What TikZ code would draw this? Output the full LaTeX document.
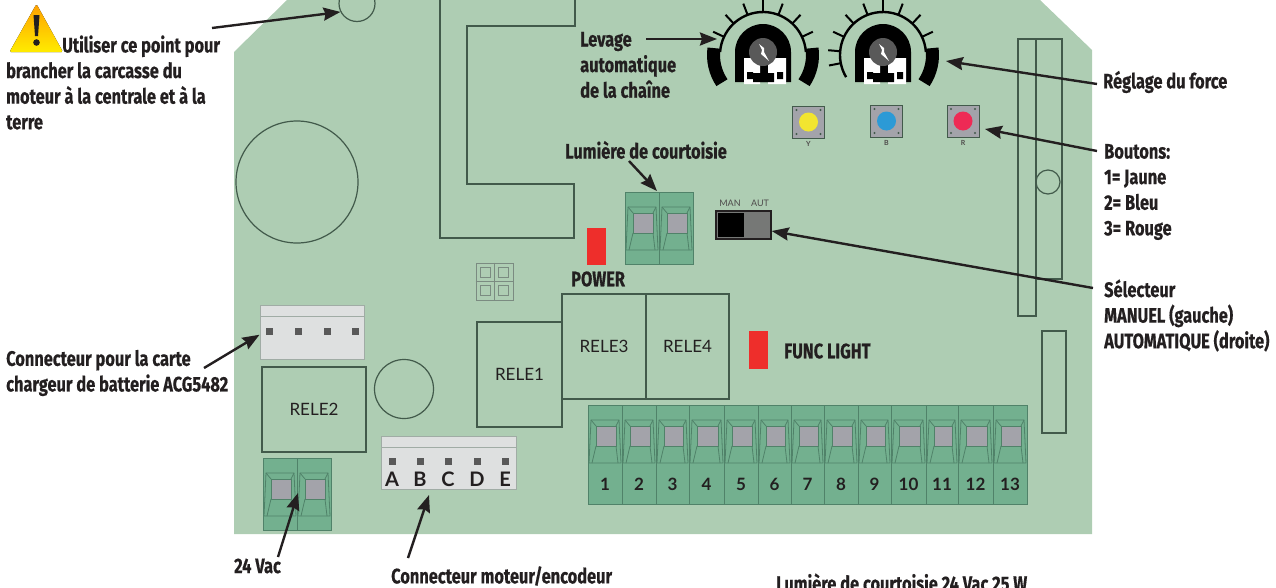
\documentclass[tikz,border=0pt]{standalone}
\usepackage{fontspec}
\usetikzlibrary{arrows.meta}
\setmainfont{Fira Sans}[FakeStretch=0.78,BoldFont={Fira Sans Bold},BoldFeatures={FakeBold=0.5}]
\newfontfamily\silkfont{Lato}
\definecolor{pcb-green}{RGB}{174,205,179}
\definecolor{term-green}{RGB}{115,176,143}
\definecolor{term-line}{RGB}{80,130,105}
\definecolor{part-line}{RGB}{66,90,75}
\definecolor{pin-gray}{RGB}{163,163,170}
\definecolor{conn-gray}{RGB}{222,224,224}
\definecolor{led-red}{RGB}{238,46,43}
\definecolor{ink}{RGB}{35,31,32}
\definecolor{btn-yellow}{RGB}{242,229,48}
\definecolor{btn-blue}{RGB}{44,154,214}
\definecolor{btn-red}{RGB}{238,42,85}
\newcommand{\termcell}[4]{%
  \draw[term-line, fill=term-green, line width=0.8pt] (#1,#3) rectangle (#2,#4);
  \draw[term-line, line width=0.8pt] (#1+3,#3+15) -- (#2-3,#3+15) -- (#2-1,#3+58)
    -- (#1+1,#3+58) -- cycle;
  \draw[term-line, fill=pin-gray, line width=0.8pt] (#1+8,#3+21) rectangle (#2-6,#3+41);
  \draw[term-line, line width=0.8pt] (#1+8,#3+41) -- (#1+4,#3+58)
    (#2-6,#3+41) -- (#2-4,#3+58) (#1+3,#3+15) -- (#1+8,#3+21) (#2-3,#3+15) -- (#2-6,#3+21);
}
\begin{document}
\begin{tikzpicture}[
          x=1pt, y=-1pt,
          label/.style={anchor=west, inner sep=0pt, align=left, text=ink,
            font=\fontsize{21}{25.6}\selectfont\bfseries},
          part/.style={draw=part-line, line width=1.2pt, inner sep=0pt},
          relay/.style={part, font=\silkfont\fontsize{17}{17}\selectfont, text=ink},
          hole/.style={part, circle},
          conn/.style={draw=part-line!50, fill=conn-gray, line width=1pt, inner sep=0pt},
          led/.style={fill=led-red, inner sep=0pt, minimum width=19pt, minimum height=37pt},
          pushbtn/.style={draw=part-line, fill=pin-gray, line width=0.9pt, inner sep=0pt,
            minimum size=32pt},
          silk/.style={inner sep=0pt, text=ink!80, font=\silkfont\fontsize{9}{9}\selectfont},
          termnum/.style={inner sep=0pt, text=ink, font=\silkfont\bfseries\fontsize{17}{17}\selectfont},
          connletter/.style={inner sep=0pt, text=ink, font=\silkfont\bfseries\fontsize{20}{20}\selectfont},
          arr/.style={-{Stealth[length=17pt,width=13pt,inset=2pt]}, ink, line width=2.4pt}
        ]
        \useasboundingbox (0,0) rectangle (1276,587);
        \fill[pcb-green] (234,52) -- (287,0) -- (1040,0) -- (1092,50) -- (1092,534)
          -- (234,534) -- cycle;
        \begin{scope}
          \clip (0,0) rectangle (1276,587);
          \node[hole, minimum size=36pt] (groundhole) at (357,3.5) {};
        \end{scope}
        \node[hole, minimum size=122pt] (bighole) at (297,182) {};
        \node[hole, minimum size=59pt] (relayhole) at (404,389) {};
        \draw[part-line, line width=1.2pt] (440,0) -- (440,238) -- (574,238) -- (574,184)
          -- (467,184) -- (467,26) -- (575,26) -- (575,0);
        \node[part, minimum width=18pt, minimum height=277pt] (railA) at (1027,177.5) {};
        \node[part, minimum width=26pt, minimum height=240pt] (railB) at (1049,159) {};
        \node[hole, minimum size=24pt] (railhole) at (1048,182) {};
        \node[part, minimum width=24pt, minimum height=102pt] (railC) at (1054,382) {};
        \node[relay, minimum width=85pt, minimum height=105pt] (rele1) at (519.5,374.5) {RELE1};
        \node[relay, minimum width=104pt, minimum height=85pt] (rele2) at (314,409.5) {RELE2};
        \node[relay, minimum width=84pt, minimum height=105pt] (rele3) at (604,346.5) {RELE3};
        \node[relay, minimum width=83pt, minimum height=105pt] (rele4) at (687.5,346.5) {RELE4};
        \node[draw=part-line!70, line width=0.9pt, minimum size=37pt, inner sep=0pt] (jumper) at (494.5,281.5) {};
        \draw[part-line!70, line width=0.9pt] (jumper.north) -- (jumper.south) (jumper.west) -- (jumper.east);
        \foreach \jx in {485.5,503.5} \foreach \jy in {272.5,290.5}
          \draw[part-line!70, line width=0.8pt] (\jx-5,\jy-5) rectangle (\jx+5,\jy+5);
        \node[led] (powerled) at (596.5,246) {};
        \node[led, minimum height=38pt] (funcled) at (758.5,350) {};
        \node[draw=ink, fill=black!55!pcb-green!20!gray, line width=1.4pt, inner sep=0pt,
          minimum width=55pt, minimum height=28pt] (selector) at (743.5,225) {};
        \fill[black] (718,213) rectangle (744,237);
        \node[silk] (mantxt) at (730,203) {MAN};
        \node[silk] (auttxt) at (760,203) {AUT};
        \foreach \bx/\by/\bcol/\btxt/\bname in {808.5/122/btn-yellow/Y/btnY,
            886.5/121/btn-blue/B/btnB, 963/121/btn-red/R/btnR} {
          \node[pushbtn] (\bname) at (\bx,\by) {};
          \fill[\bcol] (\bx,\by) circle (9.5);
          \foreach \dx in {-12,12} \foreach \dy in {-12,12}
            \fill[part-line] (\bx+\dx,\by+\dy) circle (1.2);
          \node[silk, font=\silkfont\bfseries\fontsize{7}{7}\selectfont] at (\bx,\by+22) {\btxt};
        }
        \foreach \px/\pticks in {763/{25,47,69,90,111,133,155}, 883/{25,47,69,90,111,133,155,175,191}} {
          \begin{scope}[shift={(\px,55)}]
            \foreach \a in \pticks
              \draw[black, line width=2pt] (-\a:43) -- (-\a:55);
            \draw[black, line width=2.4pt] (-4:43) arc[start angle=-4, end angle=-176, radius=43];
            \draw[black, line width=13pt] (-8:49.5) arc[start angle=-8, end angle=34, radius=49.5];
            \fill[black] (-28,-3) arc[start angle=-180, end angle=0, radius=28] -- (28,27) -- (-28,27) -- cycle;
            \fill[white] (-19,3) rectangle (-3,29) (5,3) rectangle (23,29);
            \fill[black] (-10,18) rectangle (11,27) (-16,17) rectangle (-10,24) (14,17) rectangle (20,24);
            \fill[black!65] (0,-3) circle (14);
            \fill[white] (-4,-11) -- (1,-7) -- (1,-3) -- (6,6) -- (-2,-1) -- (-1,-5) -- cycle;
          \end{scope}
        }
        \draw[black, line width=13pt] (763,55) ++(-172:49.5) arc[start angle=-172, end angle=-214, radius=49.5];
        \draw[black, line width=2.4pt] (883,55) ++(-176:43) arc[start angle=-176, end angle=-211, radius=43];
        \termcell{625}{659}{192}{264}
        \termcell{659}{693}{192}{264}
        \termcell{263}{297}{458}{530}
        \termcell{297}{331}{458}{530}
        \foreach \xa/\xb/\termno in {588/622/1,622/656/2,656/689/3,689/724/4,724/758/5,758/791/6,
            791/824/7,824/858/8,858/891/9,891/926/10,926/958/11,958/993/12,993/1027/13} {
          \termcell{\xa}{\xb}{405}{504}
          \node[termnum] (term\termno) at ({(\xa+\xb)/2},484) {\termno};
        }
        \node[conn, minimum width=104pt, minimum height=54pt] (conn4) at (312,332) {};
        \draw[part-line!50, line width=1pt] (260,316) -- (364,316);
        \foreach \cx in {269,298,327,355}
          \fill[black!65] (\cx-3.5,327.5) rectangle (\cx+3.5,334.5);
        \node[conn, minimum width=135pt, minimum height=53pt] (conn5) at (448.5,462.5) {};
        \draw[part-line!50, line width=1pt] (381,447) -- (516,447);
        \foreach \cx/\ctxt in {392/A,420/B,448/C,477/D,505/E} {
          \fill[black!65] (\cx-3.5,457.5) rectangle (\cx+3.5,464.5);
          \node[connletter] (pin\ctxt) at (\cx,479) {\ctxt};
        }
        \fill[top color=orange!75!yellow, bottom color=yellow!85!orange, rounded corners=1.5pt]
          (36.5,4) -- (63,52) -- (9.5,52) -- cycle;
        \fill[ink] (33.5,15) -- (39.5,15) -- (38,36) -- (35,36) -- cycle;
        \fill[ink] (36.5,42.5) circle (3.3);
        \node[label] (earthtxt) at (6,82.5) {\hspace*{56pt}Utiliser ce point pour\\
          brancher la carcasse du\\moteur à la centrale et à la\\terre};
        \node[label] (levagetxt) at (580,65) {Levage\\automatique\\de la chaîne};
        \node[label] (courttxt) at (565,150) {Lumière de courtoisie};
        \node[label] (powertxt) at (571,279) {POWER};
        \node[label] (functxt) at (784,351) {FUNC LIGHT};
        \node[label] (forcetxt) at (1103,82) {Réglage du force};
        \node[label] (btntxt) at (1104,192) {Boutons:\\1= Jaune\\2= Bleu\\3= Rouge};
        \node[label] (seltxt) at (1104,315.5) {Sélecteur\\MANUEL (gauche)\\AUTOMATIQUE (droite)};
        \node[label] (chargetxt) at (6,373) {Connecteur pour la carte\\chargeur de batterie ACG5482};
        \node[label] (vactxt) at (234,566) {24 Vac};
        \node[label] (motortxt) at (391,576) {Connecteur moteur/encodeur};
        \node[label, anchor=base west] (lamptxt) at (776,591) {Lumière de courtoisie 24 Vac 25 W};
        \coordinate (earthstart) at (212,28);
        \coordinate (levagestart) at (646,39);
        \coordinate (levagetip) at (717,39);
        \coordinate (forcestart) at (1097,84);
        \coordinate (forcetip) at (946,61);
        \coordinate (btnstart) at (1097,151);
        \coordinate (btntip) at (985,129);
        \coordinate (selstart) at (1093,288);
        \coordinate (courtstart) at (629,161);
        \coordinate (courttip) at (657,191);
        \coordinate (chargestart) at (204,368);
        \coordinate (vacstart) at (278,557);
        \coordinate (vactip) at (298,493);
        \coordinate (motorstart) at (408,558);
        \coordinate (motortip) at (429,495);
        \draw[arr] (earthstart) -- (groundhole.207);
        \draw[arr] (levagestart) -- (levagetip);
        \draw[arr] (forcestart) -- (forcetip);
        \draw[arr] (btnstart) -- (btntip);
        \draw[arr] (selstart) -- (selector.-12);
        \draw[arr] (courtstart) -- (courttip);
        \draw[arr] (chargestart) -- (conn4.183);
        \draw[arr] (vacstart) -- (vactip);
        \draw[arr] (motorstart) -- (motortip);
      \end{tikzpicture}
\end{document}
